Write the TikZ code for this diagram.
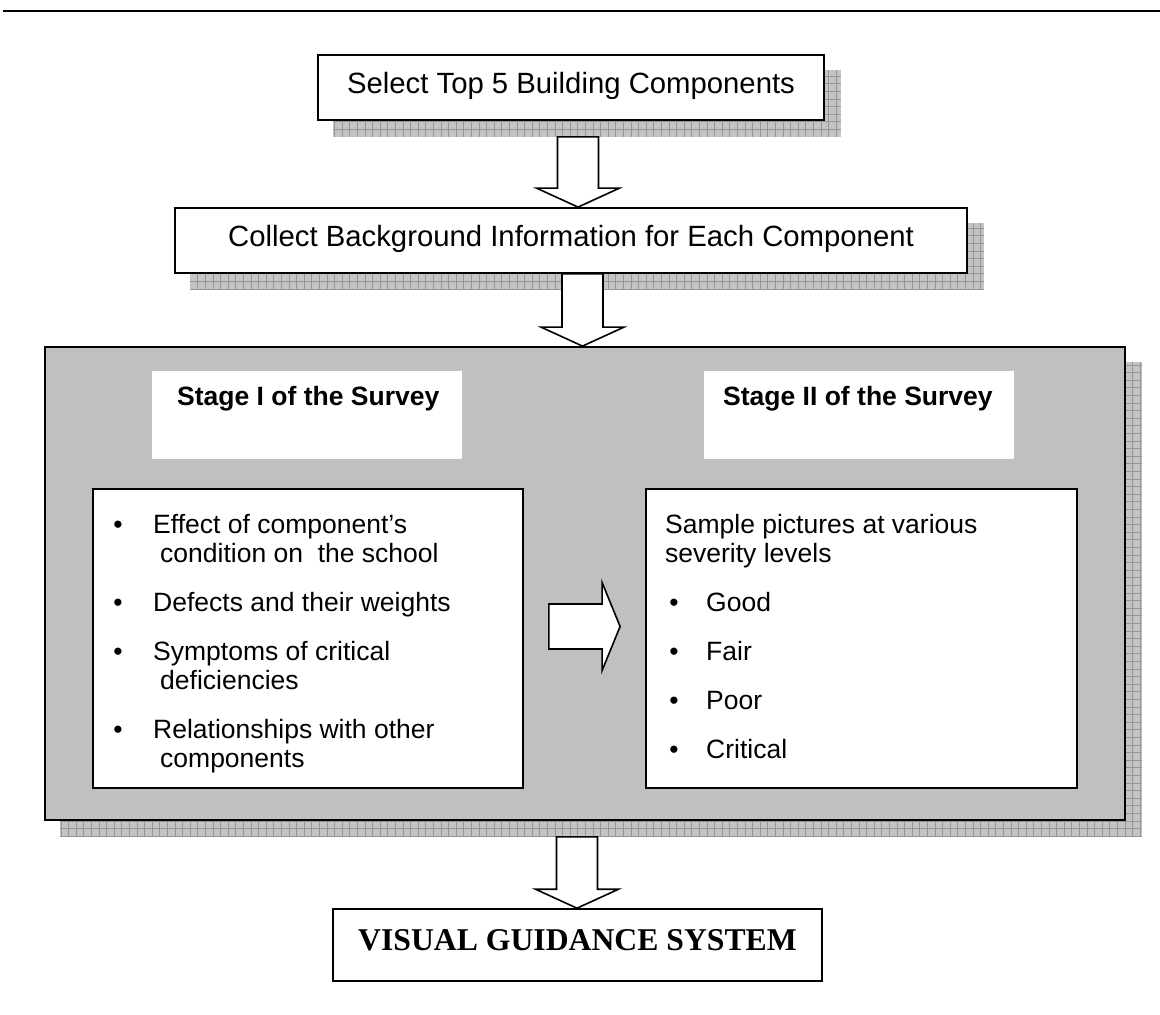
\documentclass[tikz,border=0pt]{standalone}
\usepackage{fontspec}
\setmainfont{Liberation Sans}
\newfontfamily\vgsfont{Liberation Serif}
\usetikzlibrary{calc}

\pgfdeclarelayer{shadowlayer}
\pgfsetlayers{shadowlayer,main}

\definecolor{panelgray}{RGB}{192,192,192}
\definecolor{shadefill}{RGB}{196,196,196}
\definecolor{shadegrid}{RGB}{150,150,150}

\tikzset{
  flowbox/.style={draw, line width=1.8pt, fill=white, inner sep=0pt,
    text height=21pt, text depth=10pt,
    font=\fontsize{29.3}{34}\selectfont},
  hdrbox/.style={fill=white, inner sep=0pt, minimum width=310, minimum height=88},
  hdrtext/.style={anchor=base west, inner sep=0pt,
    font=\fontsize{26.5}{30}\selectfont\bfseries},
  listbox/.style={draw, line width=1.8pt, fill=white, inner sep=0pt, minimum height=299},
  itemtext/.style={anchor=base west, inner sep=0pt, font=\fontsize{26.5}{30}\selectfont},
  bulletmark/.style={anchor=base, inner sep=0pt, font=\fontsize{26.5}{30}\selectfont},
  blockarrow/.style={draw, line width=1.6pt, fill=white, line join=miter}
}

% drop shadow with a fine grid texture, offset down and right
\newcommand\boxshadow[1]{%
  \begin{pgfonlayer}{shadowlayer}
    \begin{scope}
      \clip ($(#1.south west)+(16,16)$) rectangle ($(#1.north east)+(16,16)$);
      \fill[shadefill] ($(#1.south west)+(16,16)$) rectangle ($(#1.north east)+(16,16)$);
      \draw[shadegrid, line width=0.6pt, xstep=7.6pt, ystep=7.6pt]
        ($(#1.south west)+(16,16)$) grid ($(#1.north east)+(16,16)$);
    \end{scope}
  \end{pgfonlayer}}

% hollow arrow pointing down from #1 to #2
\newcommand\hollowdown[2]{%
  \draw[blockarrow] let \p1=(#1), \p2=(#2) in
    (\x1-20.5pt,\y1) -- (\x1+20.5pt,\y1) -- (\x1+20.5pt,\y2+19pt)
    -- (\x1+41.5pt,\y2+19pt) -- (\x2,\y2) -- (\x1-41.5pt,\y2+19pt)
    -- (\x1-20.5pt,\y2+19pt) -- cycle;}

\begin{document}
\begin{tikzpicture}[x=1pt, y=-1pt]
\useasboundingbox (0,0) rectangle (1160,1015);

% header rule
\draw[line width=2.5pt] (3,11) -- (1160,11);

% first two steps
\node[flowbox, minimum width=506, minimum height=65] (b1) at (571,87.5)
  {Select Top 5 Building Components};
\node[flowbox, minimum width=792, minimum height=65] (b2) at (571,240.5)
  {Collect Background Information for Each Component};

% survey panel
\node[draw, line width=1.8pt, fill=panelgray, minimum width=1080, minimum height=473,
  inner sep=0pt] (panel) at (585,583.5) {};
\node[hdrbox] (h1) at (307,415) {};
\node[hdrbox] (h2) at (859,415) {};
\node[hdrtext] (h1t) at (177,405) {Stage I of the Survey};
\node[hdrtext] (h2t) at (723,405) {Stage II of the Survey};

\node[listbox, minimum width=430] (lb) at (308,638.5) {};
\node[listbox, minimum width=431] (rb) at (861.5,638.5) {};

% stage I items
\node[bulletmark] (lb1) at (118,533) {\textbullet};
\node[itemtext] (l1a) at (153,533) {Effect of component’s};
\node[itemtext] (l1b) at (160,562) {condition on \ the school};
\node[bulletmark] (lb2) at (118,611) {\textbullet};
\node[itemtext] (l2) at (153,611) {Defects and their weights};
\node[bulletmark] (lb3) at (118,660) {\textbullet};
\node[itemtext] (l3a) at (153,660) {Symptoms of critical};
\node[itemtext] (l3b) at (160,689) {deficiencies};
\node[bulletmark] (lb4) at (118,738) {\textbullet};
\node[itemtext] (l4a) at (153,738) {Relationships with other};
\node[itemtext] (l4b) at (160,767) {components};

% stage II items
\node[itemtext] (r0a) at (665,533) {Sample pictures at various};
\node[itemtext] (r0b) at (665,562) {severity levels};
\node[bulletmark] (rb1) at (674,611) {\textbullet};
\node[itemtext] (r1) at (706,611) {Good};
\node[bulletmark] (rb2) at (674,660) {\textbullet};
\node[itemtext] (r2) at (706,660) {Fair};
\node[bulletmark] (rb3) at (674,709) {\textbullet};
\node[itemtext] (r3) at (706,709) {Poor};
\node[bulletmark] (rb4) at (674,758) {\textbullet};
\node[itemtext] (r4) at (706,758) {Critical};

% result
\node[draw, line width=1.6pt, fill=white, inner sep=0pt, minimum width=489,
  minimum height=72, text height=21pt, text depth=11pt,
  font=\vgsfont\bfseries\fontsize{31.7}{36}\selectfont] (vgs) at (577.5,945)
  {VISUAL GUIDANCE SYSTEM};

% shadows
\boxshadow{b1}
\boxshadow{b2}
\boxshadow{panel}

% connectors
\coordinate (a1s) at ($(b1.south)+(7,16)$);
\hollowdown{a1s}{b2.north -| a1s}
\coordinate (a2s) at ($(b2.south)+(11.5,0)$);
\hollowdown{a2s}{panel.north -| a2s}
\coordinate (a3s) at ($(panel.south)+(-8,16)$);
\hollowdown{a3s}{vgs.north -| a3s}

% stage I to stage II
\coordinate (a4s) at ($(lb.east)+(25,-12)$);
\coordinate (a4t) at ($(rb.west)+(-25,-12)$);
\draw[blockarrow] let \p1=(a4s), \p2=(a4t) in
  (\x1,\y1+22.5pt) -- (\x2-18pt,\y1+22.5pt) -- (\x2-18pt,\y1+44pt) -- (\x2,\y2)
  -- (\x2-18pt,\y1-44pt) -- (\x2-18pt,\y1-22.5pt) -- (\x1,\y1-22.5pt) -- cycle;
\end{tikzpicture}
\end{document}
